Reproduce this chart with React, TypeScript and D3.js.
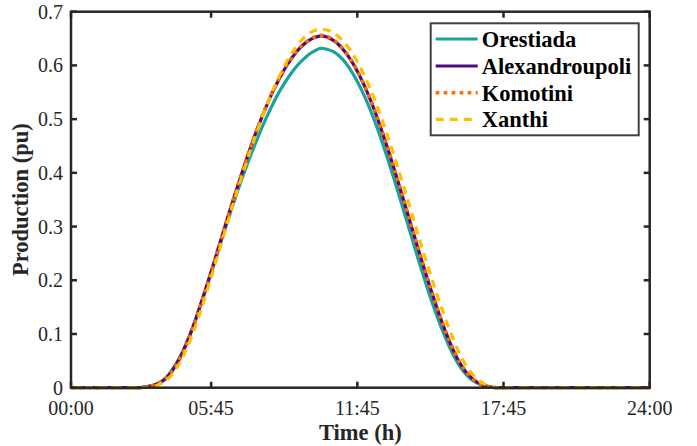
import React from "react";
import * as d3 from "d3";

// 15-min samples, index 1..96
const orestiada = [
  0, 0, 0, 0, 0, 0, 0, 0, 0, 0, 0, 0,
  0.001, 0.003, 0.007, 0.013, 0.024, 0.040, 0.060, 0.085, 0.113, 0.145,
  0.178, 0.213, 0.249, 0.285, 0.320, 0.354, 0.387, 0.418, 0.447, 0.475,
  0.501, 0.525, 0.547, 0.566, 0.583, 0.598, 0.610, 0.620, 0.627, 0.632,
  0.630, 0.626, 0.618, 0.606, 0.590, 0.570, 0.547, 0.521, 0.492, 0.460,
  0.426, 0.390, 0.353, 0.315, 0.277, 0.239, 0.203, 0.168, 0.136, 0.106,
  0.079, 0.056, 0.037, 0.023, 0.013, 0.007, 0.003, 0.001,
  0, 0, 0, 0, 0, 0, 0, 0, 0, 0, 0, 0, 0, 0, 0, 0, 0, 0, 0, 0, 0, 0, 0, 0, 0, 0,
];

const alexandroupoli = [
  0, 0, 0, 0, 0, 0, 0, 0, 0, 0, 0, 0,
  0.001, 0.003, 0.006, 0.012, 0.022, 0.038, 0.058, 0.083, 0.112, 0.145,
  0.180, 0.216, 0.253, 0.290, 0.327, 0.363, 0.398, 0.432, 0.464, 0.494,
  0.522, 0.548, 0.571, 0.592, 0.610, 0.625, 0.637, 0.646, 0.652, 0.655,
  0.653, 0.647, 0.638, 0.625, 0.609, 0.589, 0.566, 0.540, 0.511, 0.479,
  0.445, 0.409, 0.372, 0.334, 0.296, 0.258, 0.221, 0.185, 0.151, 0.119,
  0.090, 0.064, 0.043, 0.027, 0.016, 0.008, 0.003, 0.001,
  0, 0, 0, 0, 0, 0, 0, 0, 0, 0, 0, 0, 0, 0, 0, 0, 0, 0, 0, 0, 0, 0, 0, 0, 0, 0,
];

const komotini = [
  0, 0, 0, 0, 0, 0, 0, 0, 0, 0, 0, 0,
  0.001, 0.003, 0.006, 0.012, 0.022, 0.037, 0.057, 0.082, 0.111, 0.144,
  0.179, 0.215, 0.252, 0.290, 0.327, 0.363, 0.398, 0.432, 0.465, 0.495,
  0.523, 0.549, 0.572, 0.593, 0.611, 0.626, 0.638, 0.647, 0.653, 0.656,
  0.654, 0.648, 0.639, 0.626, 0.610, 0.590, 0.567, 0.541, 0.512, 0.480,
  0.446, 0.410, 0.373, 0.335, 0.297, 0.259, 0.222, 0.186, 0.152, 0.120,
  0.091, 0.065, 0.044, 0.028, 0.016, 0.008, 0.004, 0.001,
  0, 0, 0, 0, 0, 0, 0, 0, 0, 0, 0, 0, 0, 0, 0, 0, 0, 0, 0, 0, 0, 0, 0, 0, 0, 0,
];

const xanthi = [
  0, 0, 0, 0, 0, 0, 0, 0, 0, 0, 0, 0,
  0.000, 0.002, 0.004, 0.009, 0.017, 0.031, 0.049, 0.073, 0.101, 0.133,
  0.168, 0.205, 0.243, 0.281, 0.319, 0.356, 0.392, 0.427, 0.460, 0.492,
  0.522, 0.550, 0.575, 0.598, 0.618, 0.635, 0.649, 0.659, 0.665, 0.667,
  0.666, 0.661, 0.653, 0.641, 0.626, 0.607, 0.585, 0.560, 0.532, 0.501,
  0.468, 0.433, 0.397, 0.360, 0.322, 0.284, 0.247, 0.211, 0.176, 0.143,
  0.112, 0.084, 0.059, 0.039, 0.024, 0.013, 0.006, 0.002,
  0, 0, 0, 0, 0, 0, 0, 0, 0, 0, 0, 0, 0, 0, 0, 0, 0, 0, 0, 0, 0, 0, 0, 0, 0, 0,
];

const seriesNames = ["Orestiada", "Alexandroupoli", "Komotini", "Xanthi"];
const xTickIdx = [1, 24, 48, 72, 96];
const xTickLabels = ["00:00", "05:45", "11:45", "17:45", "24:00"];
const yTicks = [0, 0.1, 0.2, 0.3, 0.4, 0.5, 0.6, 0.7];
const yTickLabels = ["0", "0.1", "0.2", "0.3", "0.4", "0.5", "0.6", "0.7"];

const W = 697;
const H = 446;
const L = 71;
const R = 649.7;
const T = 11.7;
const B = 387.7;
const FONT = "'Liberation Serif', 'Times New Roman', serif";
const AX = "#262626";

const styles = [
  { color: "#1aa39a", width: 3.2, dash: undefined as string | undefined },
  { color: "#4b0a7e", width: 3.2, dash: undefined as string | undefined },
  { color: "#ff6a00", width: 3.6, dash: "3.6,4.4" },
  { color: "#ffbf00", width: 3.2, dash: "8,6" },
];

export default function App() {
  const x = d3.scaleLinear().domain([1, 96]).range([L, R]);
  const y = d3.scaleLinear().domain([0, 0.7]).range([B, T]);
  const data = [orestiada, alexandroupoli, komotini, xanthi];
  const line = d3
    .line<number>()
    .x((_, i) => x(i + 1))
    .y((v) => y(v))
    .curve(d3.curveMonotoneX);

  const tickLen = 6;
  const legX0 = 430.7;
  const legY0 = 23.3;
  const legW = 208;
  const legH = 112;
  const rowY = [39, 66, 92.7, 119.3];

  return (
    <svg
      width={W}
      height={H}
      style={{ position: "absolute", left: 0, top: 0, background: "#fff" }}
      fontFamily={FONT}
    >
      <rect x={0} y={0} width={W} height={H} fill="#fff" />
      {data.map((d, k) => (
        <path
          key={seriesNames[k]}
          d={line(d) || ""}
          fill="none"
          stroke={styles[k].color}
          strokeWidth={styles[k].width}
          strokeDasharray={styles[k].dash}
          strokeLinejoin="round"
        />
      ))}
      <rect x={L} y={T} width={R - L} height={B - T} fill="none" stroke={AX} strokeWidth={2.5} />
      {xTickIdx.map((t, i) => (
        <g key={"xt" + i}>
          <line x1={x(t)} x2={x(t)} y1={B} y2={B - tickLen} stroke={AX} strokeWidth={2.5} />
          <line x1={x(t)} x2={x(t)} y1={T} y2={T + tickLen} stroke={AX} strokeWidth={2.5} />
          <text x={x(t)} y={415} textAnchor="middle" fontSize={20} fill="#262626">
            {xTickLabels[i]}
          </text>
        </g>
      ))}
      {yTicks.map((t, i) => (
        <g key={"yt" + i}>
          <line x1={L} x2={L + tickLen} y1={y(t)} y2={y(t)} stroke={AX} strokeWidth={2.5} />
          <line x1={R} x2={R - tickLen} y1={y(t)} y2={y(t)} stroke={AX} strokeWidth={2.5} />
          <text x={L - 8} y={y(t)} dy="0.35em" textAnchor="end" fontSize={20} fill="#262626">
            {yTickLabels[i]}
          </text>
        </g>
      ))}
      <text x={(L + R) / 2} y={440} textAnchor="middle" fontSize={22.5} fontWeight="bold" fill="#262626">
        Time (h)
      </text>
      <text
        transform={`translate(28,${(T + B) / 2}) rotate(-90)`}
        textAnchor="middle"
        fontSize={22.5}
        fontWeight="bold"
        fill="#262626"
      >
        Production (pu)
      </text>
      <rect x={legX0} y={legY0} width={legW} height={legH} fill="#fff" stroke="#404040" strokeWidth={2} />
      {seriesNames.map((n, k) => (
        <g key={"lg" + n}>
          <line
            x1={legX0 + 5}
            x2={legX0 + 47}
            y1={rowY[k]}
            y2={rowY[k]}
            stroke={styles[k].color}
            strokeWidth={styles[k].width}
            strokeDasharray={styles[k].dash}
          />
          <text x={481.7} y={rowY[k]} dy="0.35em" fontSize={22.5} fontWeight="bold" fill="#000">
            {n}
          </text>
        </g>
      ))}
    </svg>
  );
}
